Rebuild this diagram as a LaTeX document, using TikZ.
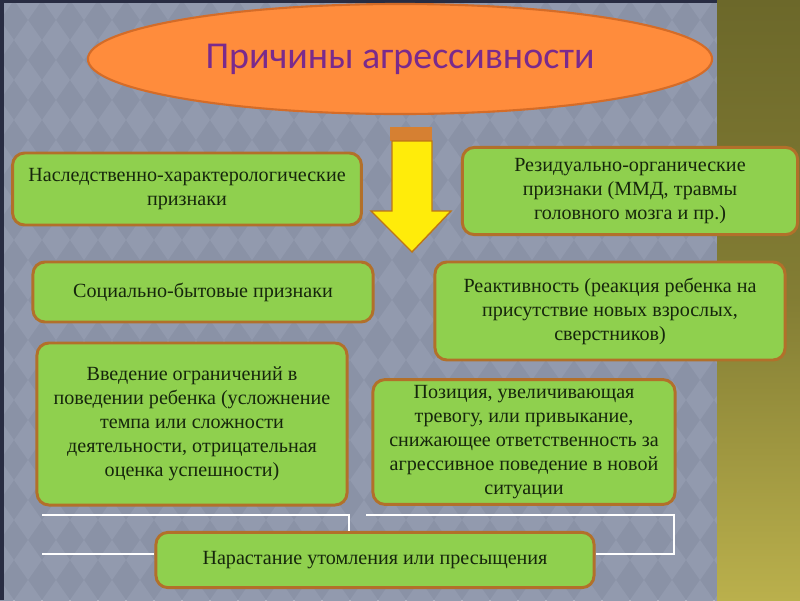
\documentclass[tikz,border=0pt]{standalone}
\usepackage{fontspec}
\setmainfont{Liberation Serif}
\newfontfamily\titlefont{Carlito}
\usetikzlibrary{shapes.geometric}

\definecolor{bgcol}{RGB}{138,146,166}
\definecolor{diamcol}{RGB}{146,154,174}
\definecolor{edgecol}{RGB}{40,44,66}
\definecolor{olivetop}{RGB}{108,104,42}
\definecolor{olivebot}{RGB}{186,176,76}
\definecolor{boxfill}{RGB}{143,208,78}
\definecolor{boxline}{RGB}{178,112,42}
\definecolor{boxtext}{RGB}{22,38,12}
\definecolor{ovalfill}{RGB}{255,140,60}
\definecolor{ovalline}{RGB}{212,108,40}
\definecolor{titlecol}{RGB}{122,42,140}
\definecolor{arrowfill}{RGB}{255,236,10}
\definecolor{arrowline}{RGB}{190,118,22}
\definecolor{capfill}{RGB}{214,128,50}

\begin{document}
\begin{tikzpicture}[x=0.025cm, y=-0.025cm,
    reason/.style={draw=boxline, line width=2.1pt, fill=boxfill, rounded corners=0.3cm,
      align=center, text=boxtext, inner sep=2pt,
      font=\fontsize{14.3}{17.1}\selectfont},
    link/.style={draw=white, line width=1.3pt}]
  \useasboundingbox (0,0) rectangle (800,600);

  % Hintergrund
  \fill[bgcol] (0,0) rectangle (800,600);
  \foreach \i in {0,...,26}
    \foreach \j in {0,...,15}
      \fill[diamcol] (\i*28,\j*40-20) -- ++(14,20) -- ++(-14,20) -- ++(-14,-20) -- cycle;
  \shade[top color=olivetop, bottom color=olivebot, middle color=olivetop!70!olivebot]
    (717,0) rectangle (800,600);
  \fill[edgecol] (0,0) rectangle (4,600);
  \fill[edgecol] (0,0) rectangle (717,3);

  % Titel
  \node[ellipse, draw=ovalline, line width=1.5pt, fill=ovalfill, minimum width=15.6cm,
    minimum height=2.75cm, inner sep=0pt, text=titlecol, font=\titlefont\fontsize{27}{30}\selectfont]
    (title) at (400,59) {Причины агрессивности};

  % Pfeil
  \fill[capfill] (390,127) rectangle (432,141);
  \draw[arrowline, fill=arrowfill, line width=1pt]
    (392,141) -- (432,141) -- (432,211) -- (451,211) -- (412,252)
    -- (371,211) -- (392,211) -- cycle;

  % Kästen
  \node[reason, minimum width=8.72cm, minimum height=1.8cm] (heredity) at (187,189)
    {Наследственно-характерологические\\признаки};
  \node[reason, minimum width=8.38cm, minimum height=2.18cm] (residual) at (630,191)
    {Резидуально-органические\\признаки (ММД, травмы\\головного мозга и пр.)};
  \node[reason, minimum width=8.5cm, minimum height=1.5cm] (social) at (203,292)
    {Социально-бытовые признаки};
  \node[reason, minimum width=8.75cm, minimum height=2.45cm] (reactivity) at (610,311)
    {Реактивность (реакция ребенка на\\присутствие новых взрослых,\\сверстников)};
  \node[reason, minimum width=7.75cm, minimum height=4.05cm] (restriction) at (192,424)
    {Введение ограничений в\\поведении ребенка (усложнение\\темпа или сложности\\деятельности, отрицательная\\оценка успешности)};
  \node[reason, minimum width=7.55cm, minimum height=3.12cm] (position) at (524,442)
    {Позиция, увеличивающая\\тревогу, или привыкание,\\снижающее ответственность за\\агрессивное поведение в новой\\ситуации};
  \node[reason, minimum width=10.95cm, minimum height=1.38cm] (fatigue) at (375,560)
    {Нарастание утомления или пресыщения};

  % Klammern
  \coordinate (brL) at (42,515);
  \coordinate (brLx) at (349,515);
  \coordinate (tickL) at (42,554);
  \coordinate (brR) at (366,515);
  \coordinate (brRx) at (674,554);
  \draw[link] (brL) -| (fatigue.north -| brLx);
  \draw[link] (tickL) -- (fatigue.west |- tickL);
  \draw[link] (brR) -| (brRx) -- (fatigue.east |- brRx);
\end{tikzpicture}
\end{document}
